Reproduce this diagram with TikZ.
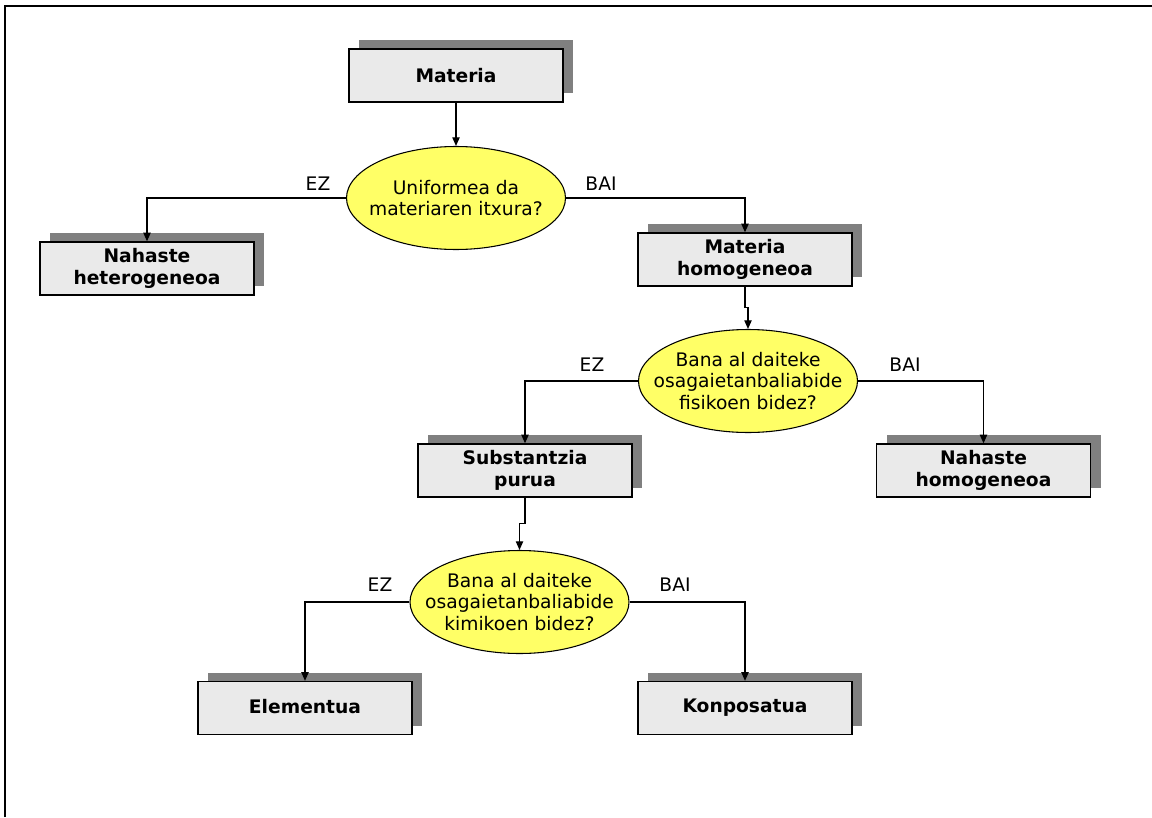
\documentclass[tikz,border=0pt]{standalone}
\usepackage{fontspec}
\setmainfont{DejaVu Sans}
\usetikzlibrary{arrows.meta,shapes.geometric,shadows}
\definecolor{boxfill}{HTML}{EAEAEA}
\definecolor{shadowgray}{HTML}{808080}
\definecolor{decfill}{HTML}{FFFF66}
\begin{document}
\begin{tikzpicture}[x=0.75pt,y=-0.75pt,
  every node/.style={font=\fontsize{14pt}{16.2pt}\selectfont},
  boxnode/.style={draw=black,line width=1pt,fill=boxfill,rectangle,
    minimum width=160.5pt,minimum height=39.75pt,inner sep=0pt,align=center,
    font=\fontsize{14pt}{16.2pt}\selectfont\bfseries,
    general shadow={fill=shadowgray,shadow xshift=7.5pt,shadow yshift=6.75pt,opacity=1}},
  decnode/.style={draw=black,line width=0.8pt,fill=decfill,ellipse,
    minimum width=164.25pt,minimum height=77.25pt,inner sep=0pt},
  qtext/.style={align=center,inner sep=0pt,font=\fontsize{14pt}{16.4pt}\selectfont},
  lbl/.style={inner sep=0pt},
  arr/.style={draw=black,line width=0.9pt,-{Triangle[length=6.5pt,width=5.5pt]}}]
\useasboundingbox (0,0) rectangle (1152,817);
\coordinate (fbl) at (5,817);
\coordinate (ftl) at (5,6);
\coordinate (ftr) at (1152,6);
\draw[line width=1.3pt] (fbl) -- (ftl) -- (ftr);

\node[boxnode] (m) at (456,75.5) {Materia};
\node[decnode,label={[qtext]center:Uniformea da\\materiaren itxura?}] (q1) at (456,198) {};
\node[boxnode] (nhet) at (147,268.5) {Nahaste\\heterogeneoa};
\node[boxnode] (mh) at (745,259.5) {Materia\\homogeneoa};
\node[decnode,label={[qtext]center:Bana al daiteke\\osagaietanbaliabide\\fisikoen bidez?}] (q2) at (748,381) {};
\node[boxnode] (sp) at (525,470.5) {Substantzia\\purua};
\node[boxnode] (nhom) at (983.5,470.5) {Nahaste\\homogeneoa};
\node[decnode,label={[qtext]center:Bana al daiteke\\osagaietanbaliabide\\kimikoen bidez?}] (q3) at (519.5,602) {};
\node[boxnode] (el) at (305,708) {Elementua\vphantom{p}};
\node[boxnode] (ko) at (745,708) {Konposatua};

\node[lbl] (ez1) at (318,184) {EZ};
\node[lbl] (bai1) at (601,184) {BAI};
\node[lbl] (ez2) at (592,365) {EZ};
\node[lbl] (bai2) at (905,365) {BAI};
\node[lbl] (ez3) at (380,585) {EZ};
\node[lbl] (bai3) at (675,585) {BAI};

\draw[arr] (m.south) -- (q1.north);
\draw[arr] (q1.west) -| (nhet.north);
\draw[arr] (q1.east) -| (mh.north);
\draw[arr] (mh.south) -- ++(0,21) -| (q2.north);
\draw[arr] (q2.west) -| (sp.north);
\draw[arr] (q2.east) -| (nhom.north);
\draw[arr] (sp.south) -- ++(0,26) -| (q3.north);
\draw[arr] (q3.west) -| (el.north);
\draw[arr] (q3.east) -| (ko.north);
\end{tikzpicture}
\end{document}
